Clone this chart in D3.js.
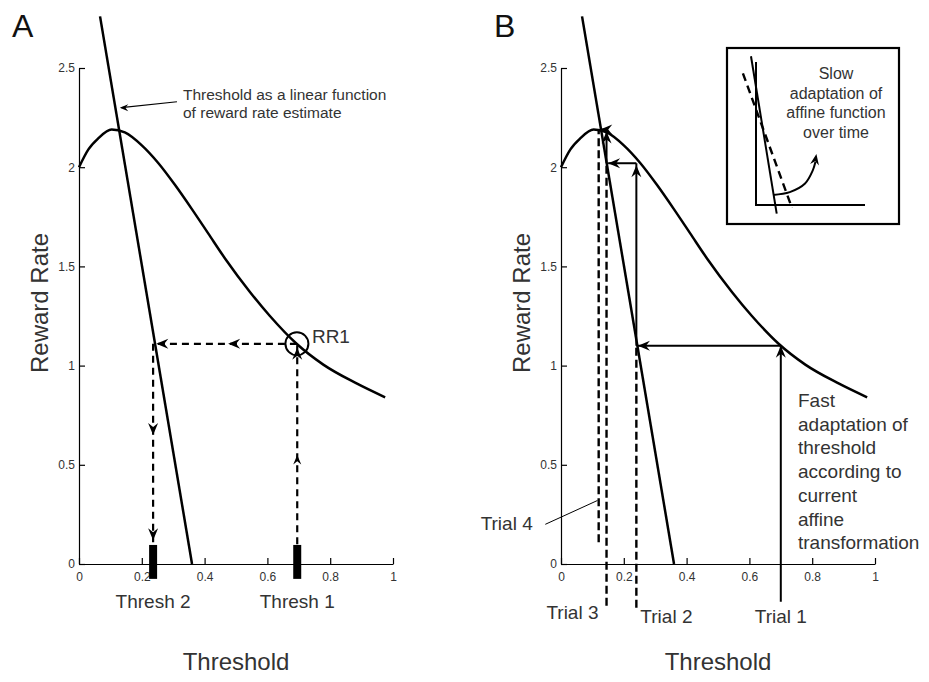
<!DOCTYPE html>
<html>
<head>
<meta charset="utf-8">
<script src="https://cdn.jsdelivr.net/npm/d3@7"></script>
<style>
  body { margin: 0; background: #fff; }
  svg { display: block; font-family: 'Liberation Sans', Arial, sans-serif; }
  .tick text { font-size: 12px; fill: #333; }
  .axis path, .axis line { stroke: #000; stroke-width: 1.2; }
</style>
</head>
<body>
<div id="chart"></div>
<script>
// axis ticks
const xTicks = [0, 0.2, 0.4, 0.6, 0.8, 1]
const yTicks = [0, 0.5, 1, 1.5, 2, 2.5]

// reward rate as a function of threshold
const rrThreshold = [0, 0.03, 0.061, 0.104, 0.146, 0.2, 0.253, 0.306, 0.359, 0.412, 0.465, 0.545, 0.608, 0.693, 0.778, 0.884, 0.975]
const rrValue = [2.0, 2.09, 2.145, 2.19, 2.175, 2.11, 2.02, 1.91, 1.79, 1.665, 1.54, 1.37, 1.25, 1.11, 1.005, 0.91, 0.84]

// threshold as a linear function of reward rate (end points)
const affineThreshold = [0.067, 0.36]
const affineRate = [2.76, 0]

// panel A
const threshNames = ['Thresh 1', 'Thresh 2']
const threshMarks = [0.695, 0.236]
const rr1 = [0.694, 1.11]

// panel B
const trialNames = ['Trial 1', 'Trial 2', 'Trial 3', 'Trial 4']
const trialThreshold = [0.70, 0.24, 0.145, 0.12]
const trialRate = [1.10, 2.02, 2.19, 2.2]
const trialBottom = [-0.19, -0.22, -0.21, 0.11]

// inset (schematic units)
const insetSolid = [[-0.046, 1.04], [0.19, -0.06]]
const insetDashed = [[-0.12, 0.92], [0.33, -0.02]]
const insetArrow = [[0.156, 0.07], [0.31, 0.09], [0.45, 0.15], [0.52, 0.24], [0.545, 0.3]]

const annotationText = ['Threshold as a linear function', 'of reward rate estimate']
const slowText = ['Slow', 'adaptation of', 'affine function', 'over time']
const fastText = ['Fast', 'adaptation of', 'threshold', 'according to', 'current', 'affine', 'transformation']

const width = 929
const height = 682
const textColor = '#333'

const svg = d3.select('#chart')
  .append('svg')
  .attr('width', width)
  .attr('height', height)

svg.append('rect').attr('width', width).attr('height', height).attr('fill', '#fff')

const yScale = d3.scaleLinear().domain([0, 2.5]).range([564, 68])

function arrowHead(g, x, y, angle, size = 1) {
  g.append('path')
    .attr('d', `M0,0L${-12 * size},${-5 * size}L${-8 * size},0L${-12 * size},${5 * size}Z`)
    .attr('transform', `translate(${x},${y}) rotate(${angle})`)
    .attr('fill', '#000')
}

function drawPanel(left, letter) {
  const xScale = d3.scaleLinear().domain([0, 1]).range([left, left + 314])
  const g = svg.append('g')

  g.append('g')
    .attr('class', 'axis')
    .attr('transform', `translate(0,${yScale(0)})`)
    .call(d3.axisBottom(xScale).tickValues(xTicks).tickFormat(d3.format('~g'))
      .tickSizeInner(-6).tickSizeOuter(0).tickPadding(8))

  g.append('g')
    .attr('class', 'axis')
    .attr('transform', `translate(${left},0)`)
    .call(d3.axisLeft(yScale).tickValues(yTicks).tickFormat(d3.format('~g'))
      .tickSizeInner(-6).tickSizeOuter(0).tickPadding(4))

  const curve = d3.line()
    .x((d, i) => xScale(rrThreshold[i]))
    .y((d) => yScale(d))
    .curve(d3.curveMonotoneX)

  g.append('path')
    .attr('d', curve(rrValue))
    .attr('fill', 'none')
    .attr('stroke', '#000')
    .attr('stroke-width', 2.5)

  g.append('line')
    .attr('x1', xScale(affineThreshold[0])).attr('y1', yScale(affineRate[0]))
    .attr('x2', xScale(affineThreshold[1])).attr('y2', yScale(affineRate[1]))
    .attr('stroke', '#000')
    .attr('stroke-width', 2.5)

  g.append('text')
    .attr('x', left - 67).attr('y', 37)
    .attr('font-size', 32)
    .attr('fill', '#111')
    .text(letter)

  g.append('text')
    .attr('transform', `translate(${left - 31},303) rotate(-90)`)
    .attr('text-anchor', 'middle')
    .attr('font-size', 24)
    .attr('fill', textColor)
    .text('Reward Rate')

  g.append('text')
    .attr('x', xScale(0.5)).attr('y', 670)
    .attr('text-anchor', 'middle')
    .attr('font-size', 24)
    .attr('fill', textColor)
    .text('Threshold')

  return { g, xScale }
}

// ---------- panel A ----------
{
  const { g, xScale } = drawPanel(79, 'A')
  const dash = '7,5'

  threshMarks.forEach((t, i) => {
    g.append('rect')
      .attr('x', xScale(t) - 4)
      .attr('y', yScale(0.096))
      .attr('width', 8)
      .attr('height', yScale(-0.075) - yScale(0.096))
      .attr('fill', '#000')
    g.append('text')
      .attr('x', xScale(t)).attr('y', 608)
      .attr('text-anchor', 'middle')
      .attr('font-size', 19)
      .attr('fill', textColor)
      .text(threshNames[i])
  })

  const t1 = threshMarks[0]
  const t2 = threshMarks[1]
  const lineX = affineThreshold[1] - (affineThreshold[1] - affineThreshold[0]) * rr1[1] / affineRate[0]

  // up from Thresh 1 to the curve
  g.append('line')
    .attr('x1', xScale(t1)).attr('y1', yScale(0.1))
    .attr('x2', xScale(t1)).attr('y2', yScale(rr1[1]))
    .attr('stroke', '#000').attr('stroke-width', 2.2).attr('stroke-dasharray', dash)
  arrowHead(g, xScale(t1), yScale(0.55), -90, 0.8)
  arrowHead(g, xScale(t1), yScale(1.09), -90)

  // across to the line
  g.append('line')
    .attr('x1', xScale(rr1[0])).attr('y1', yScale(rr1[1]))
    .attr('x2', xScale(lineX)).attr('y2', yScale(rr1[1]))
    .attr('stroke', '#000').attr('stroke-width', 2.2).attr('stroke-dasharray', dash)
  arrowHead(g, xScale(0.475), yScale(rr1[1]), 180)
  arrowHead(g, xScale(lineX + 0.004), yScale(rr1[1]), 180)

  // down to Thresh 2
  g.append('line')
    .attr('x1', xScale(t2)).attr('y1', yScale(rr1[1]))
    .attr('x2', xScale(t2)).attr('y2', yScale(0.11))
    .attr('stroke', '#000').attr('stroke-width', 2.2).attr('stroke-dasharray', dash)
  arrowHead(g, xScale(t2), yScale(0.65), 90)
  arrowHead(g, xScale(t2), yScale(0.12), 90)

  // RR1 circle
  g.append('circle')
    .attr('cx', xScale(rr1[0])).attr('cy', yScale(rr1[1]))
    .attr('r', 11.5)
    .attr('fill', 'none')
    .attr('stroke', '#000')
    .attr('stroke-width', 2)
  g.append('text')
    .attr('x', xScale(rr1[0]) + 15).attr('y', yScale(rr1[1]) - 1)
    .attr('font-size', 19)
    .attr('fill', textColor)
    .text('RR1')

  // annotation
  g.append('line')
    .attr('x1', xScale(0.312)).attr('y1', yScale(2.33))
    .attr('x2', xScale(0.135)).attr('y2', yScale(2.3))
    .attr('stroke', '#000').attr('stroke-width', 1.2)
  arrowHead(g, xScale(0.13), yScale(2.3), 180, 0.7)
  g.append('text')
    .attr('font-size', 15.5)
    .attr('fill', textColor)
    .selectAll('tspan')
    .data(annotationText)
    .join('tspan')
    .attr('x', 183)
    .attr('y', (d, i) => 100 + i * 18)
    .text((d) => d)
}

// ---------- panel B ----------
{
  const { g, xScale } = drawPanel(561, 'B')
  const dash = '8,4'
  const solid = (x1, y1, x2, y2) => g.append('line')
    .attr('x1', xScale(x1)).attr('y1', yScale(y1))
    .attr('x2', xScale(x2)).attr('y2', yScale(y2))
    .attr('stroke', '#000').attr('stroke-width', 2)
  const dashed = (x1, y1, x2, y2) => solid(x1, y1, x2, y2)
    .attr('stroke-width', 2.4).attr('stroke-dasharray', dash)

  // trial 1
  solid(trialThreshold[0], trialBottom[0], trialThreshold[0], trialRate[0])
  arrowHead(g, xScale(trialThreshold[0]), yScale(trialRate[0]), -90)
  // trials 2..4
  for (let i = 1; i < trialThreshold.length; i++) {
    const t = trialThreshold[i]
    // across from previous trial to the line
    solid(trialThreshold[i - 1], trialRate[i - 1], t + 0.005, trialRate[i - 1])
    arrowHead(g, xScale(t + 0.005), yScale(trialRate[i - 1]), 180)
    dashed(t, trialBottom[i], t, trialRate[i - 1])
    if (i < trialThreshold.length - 1) {
      solid(t, trialRate[i - 1], t, trialRate[i])
      arrowHead(g, xScale(t), yScale(trialRate[i] - 0.01), -90)
    }
  }

  // trial labels
  const labelPos = [
    { x: xScale(trialThreshold[0]), y: 623, anchor: 'middle' },
    { x: xScale(trialThreshold[1]) + 4, y: 623, anchor: 'start' },
    { x: xScale(trialThreshold[2]) - 8, y: 619, anchor: 'end' },
    { x: xScale(-0.09), y: 530, anchor: 'end' },
  ]
  trialNames.forEach((name, i) => {
    g.append('text')
      .attr('x', labelPos[i].x).attr('y', labelPos[i].y)
      .attr('text-anchor', labelPos[i].anchor)
      .attr('font-size', 19)
      .attr('fill', textColor)
      .text(name)
  })
  g.append('line')
    .attr('x1', xScale(-0.05)).attr('y1', yScale(0.2))
    .attr('x2', xScale(trialThreshold[3] - 0.004)).attr('y2', yScale(0.32))
    .attr('stroke', '#000').attr('stroke-width', 1)

  // fast adaptation note
  g.append('text')
    .attr('font-size', 19)
    .attr('fill', textColor)
    .selectAll('tspan')
    .data(fastText)
    .join('tspan')
    .attr('x', 798)
    .attr('y', (d, i) => 407 + i * 23.7)
    .text((d) => d)

  // inset
  const inX = d3.scaleLinear().domain([0, 1]).range([756, 865])
  const inY = d3.scaleLinear().domain([0, 1]).range([205, 62])
  const inset = g.append('g')
  inset.append('rect')
    .attr('x', 727).attr('y', 48).attr('width', 172).attr('height', 176)
    .attr('fill', '#fff').attr('stroke', '#000').attr('stroke-width', 2.2)
  inset.append('path')
    .attr('d', `M${inX(0)},${inY(1)}V${inY(0)}H${inX(1)}`)
    .attr('fill', 'none').attr('stroke', '#000').attr('stroke-width', 2)
  const inLine = d3.line().x((d) => inX(d[0])).y((d) => inY(d[1]))
  inset.append('path')
    .attr('d', inLine(insetSolid))
    .attr('stroke', '#000').attr('stroke-width', 2)
  inset.append('path')
    .attr('d', inLine(insetDashed))
    .attr('stroke', '#000').attr('stroke-width', 2.4).attr('stroke-dasharray', '8,5')
  inset.append('path')
    .attr('d', inLine.curve(d3.curveCatmullRom)(insetArrow))
    .attr('fill', 'none').attr('stroke', '#000').attr('stroke-width', 2)
  const last = insetArrow[insetArrow.length - 1]
  arrowHead(inset, inX(last[0]) + 1, inY(last[1]) - 8, -80, 0.9)
  inset.append('text')
    .attr('font-size', 16)
    .attr('fill', textColor)
    .attr('text-anchor', 'middle')
    .selectAll('tspan')
    .data(slowText)
    .join('tspan')
    .attr('x', 836)
    .attr('y', (d, i) => 79 + i * 19.7)
    .text((d) => d)
}
</script>
</body>
</html>
